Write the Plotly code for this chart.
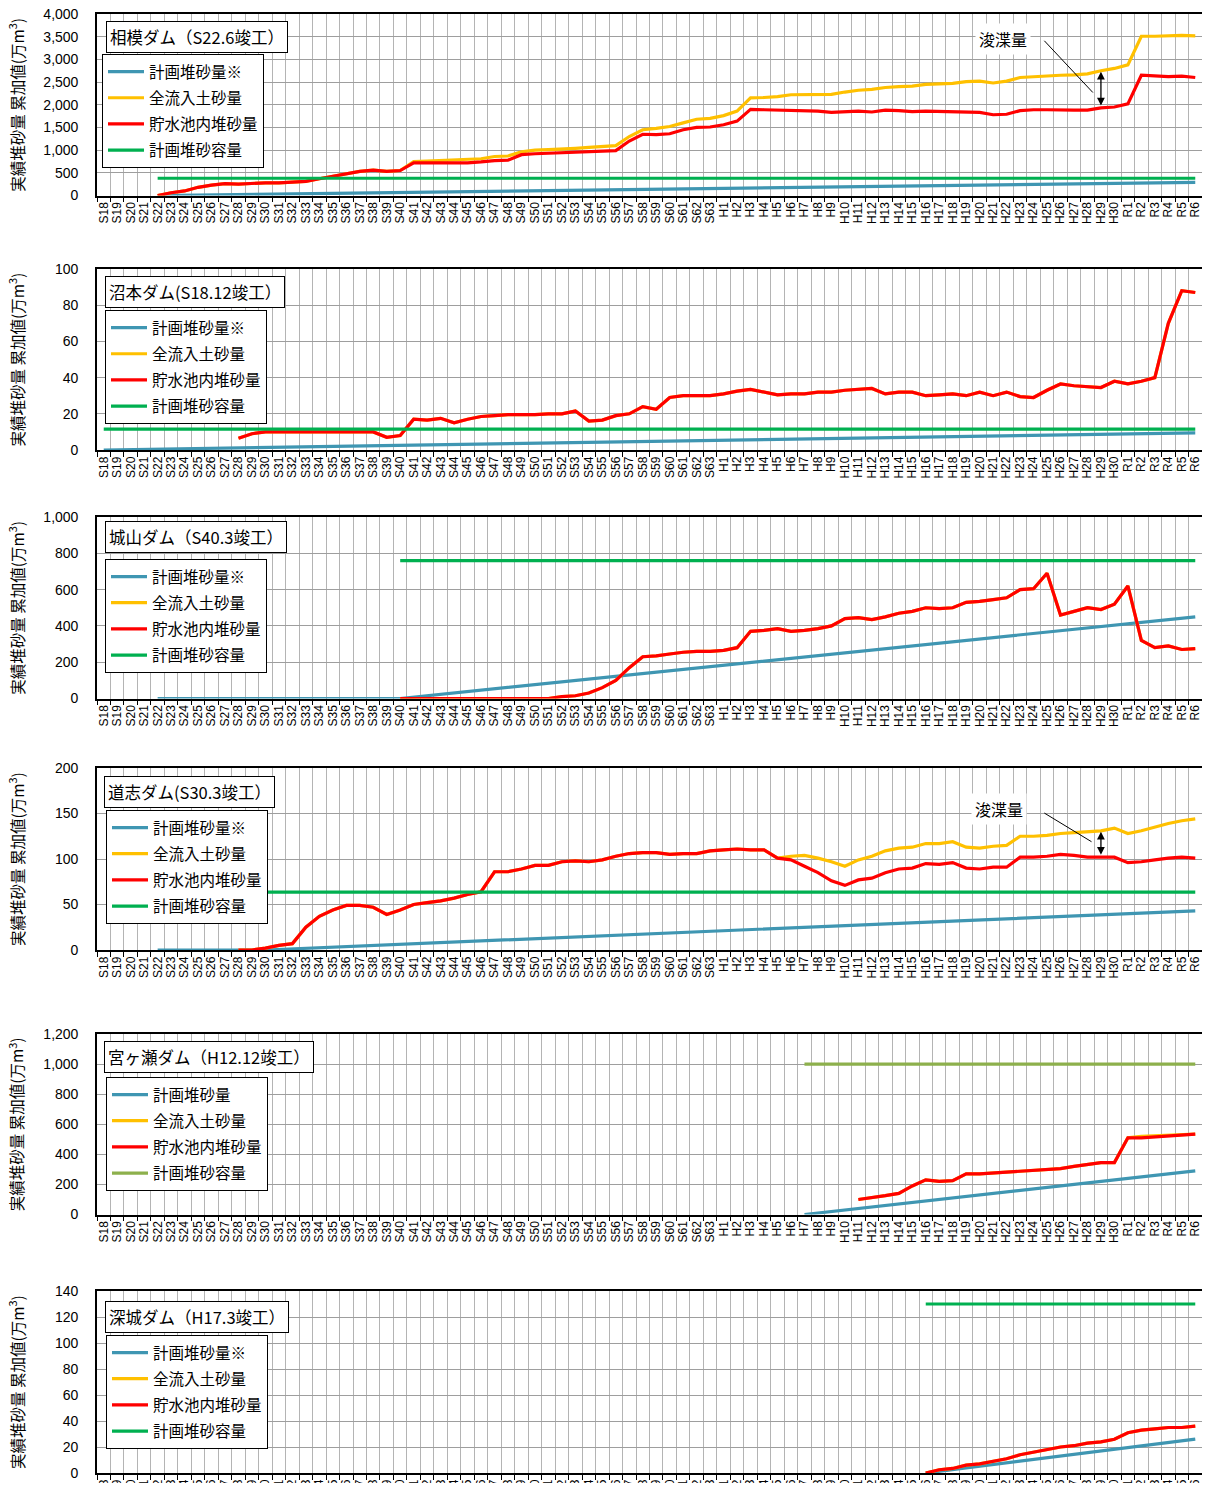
import plotly.graph_objects as go

# ---------------- categories ----------------
years = ([f"S{i}" for i in range(18, 64)] + [f"H{i}" for i in range(1, 31)]
         + [f"R{i}" for i in range(1, 7)])

# ---------------- data (万m3) ----------------
# 相模ダム
sagami_red_start = "S22"
sagami_red = [0, 60, 100, 180, 230, 260, 250, 270, 280, 280,
              290, 310, 370, 420, 480, 530, 560, 530, 550, 720,
              720, 720, 720, 720, 740, 770, 780, 900, 920, 930,
              940, 950, 970, 980, 990, 1200, 1350, 1340, 1360, 1450,
              1500, 1510,
              1560, 1640, 1900, 1890, 1880, 1880, 1870, 1860, 1830, 1850,
              1860, 1840, 1880, 1870, 1850, 1860, 1850, 1840, 1840, 1830,
              1780, 1790, 1870, 1890, 1890, 1880, 1880, 1880, 1930, 1950,
              2020, 2650, 2640, 2620, 2630, 2600]
sagami_yel_start = "S22"
sagami_yel = [0, 60, 100, 180, 230, 260, 250, 270, 280, 280,
              290, 310, 370, 420, 480, 530, 560, 530, 550, 750,
              760, 770, 780, 790, 810, 860, 870, 960, 1000, 1010,
              1020, 1040, 1060, 1080, 1100, 1300, 1450, 1480, 1520, 1600,
              1680, 1700,
              1760, 1860, 2150, 2160, 2180, 2220, 2220, 2230, 2230, 2280,
              2320, 2340, 2380, 2400, 2410, 2450, 2460, 2470, 2510, 2520,
              2480, 2520, 2600, 2620, 2640, 2650, 2660, 2680, 2750, 2800,
              2880, 3510, 3510, 3520, 3530, 3520]
sagami_plan_x = ["S22", "R6"]
sagami_plan_y = [0, 290]
sagami_cap_x = ["S22", "R6"]
sagami_cap_y = [380, 380]

# 沼本ダム
numa_red_start = "S28"
numa_red = [6.5, 9, 10, 10, 10, 10, 10, 10, 10, 10,
            10, 7, 8, 17, 16.5, 17.5, 15, 17, 18.5, 19,
            19.5, 19.5, 19.5, 20, 20, 21.5, 16, 16.5, 19, 20,
            24, 22.5, 29, 30, 30, 30,
            31, 32.5, 33.5, 32, 30.5, 31, 31, 32, 32, 33,
            33.5, 34, 31, 32, 32, 30, 30.5, 31, 30, 32,
            30, 32, 29.5, 29, 33, 36.5, 35.5, 35, 34.5, 38,
            36.5, 38, 40, 70, 88, 87, 85.5, 88]
numa_plan_x = ["S18", "R6"]
numa_plan_y = [0, 9.5]
numa_cap_x = ["S18", "R6"]
numa_cap_y = [11.5, 11.5]

# 城山ダム
shiro_red_start = "S40"
shiro_red = [0, 0, 0, 0, 0, 0, 0, 0, 0, 0,
             0, 0, 10, 15, 30, 60, 100, 170, 230, 235,
             245, 255, 260, 260,
             265, 280, 370, 375, 385, 370, 375, 385, 400, 440,
             445, 435, 450, 470, 480, 500, 495, 500, 530, 535,
             545, 555, 600, 605, 690, 460, 480, 500, 490, 520,
             620, 320, 280, 290, 270, 275]
shiro_plan_x = ["S22", "S40", "R6"]
shiro_plan_y = [0, 0, 450]
shiro_cap_x = ["S40", "R6"]
shiro_cap_y = [760, 760]

# 道志ダム
doshi_red_start = "S28"
doshi_red = [0, 0, 2, 5, 7, 25, 37, 44, 49, 49,
             47, 39, 44, 50, 52, 54, 57, 61, 64, 86,
             86, 89, 93, 93, 97, 98, 97, 99, 103, 106,
             107, 107, 105, 106, 106, 109,
             110, 111, 110, 110, 101, 99, 92, 85, 76, 71,
             77, 79, 85, 89, 90, 95, 94, 96, 90, 89,
             91, 91, 102, 102, 103, 105, 104, 102, 102, 102,
             96, 97, 99, 101, 102, 101]
doshi_yel_start = "S28"
doshi_yel = [0, 0, 2, 5, 7, 25, 37, 44, 49, 49,
             47, 39, 44, 50, 52, 54, 57, 61, 64, 86,
             86, 89, 93, 93, 97, 98, 97, 99, 103, 106,
             107, 107, 105, 106, 106, 109,
             110, 111, 110, 110, 101, 103, 104, 101, 97, 92,
             99, 103, 109, 112, 113, 117, 117, 119, 113, 112,
             114, 115, 125, 125, 126, 128, 129, 130, 131, 134,
             128, 131, 135, 139, 142, 144]
doshi_plan_x = ["S22", "S30", "R6"]
doshi_plan_y = [0, 0, 43]
doshi_cap_x = ["S28", "R6"]
doshi_cap_y = [63.5, 63.5]

# 宮ヶ瀬ダム
miya_red_start = "H11"
miya_red = [100, 110, 125, 140, 190, 230, 220, 225, 270, 270,
            275, 280, 285, 295, 300, 305, 320, 335, 345, 345,
            510, 510, 515, 520, 530, 535]
miya_yel_start = "H11"
miya_yel = [100, 110, 125, 140, 190, 230, 220, 225, 270, 270,
            275, 280, 285, 295, 300, 305, 320, 335, 345, 345,
            510, 520, 525, 525, 530, 535]
miya_plan_x = ["H7", "R6"]
miya_plan_y = [0, 290]
miya_cap_x = ["H7", "R6"]
miya_cap_y = [1000, 1000]

# 深城ダム
fuka_red_start = "H16"
fuka_red = [0, 2.5, 3.5, 6, 7, 9, 11, 14, 16, 18,
            20, 21, 23, 24, 26, 31, 33, 34, 35, 35, 36]
fuka_plan_x = ["H16", "R6"]
fuka_plan_y = [0, 26]
fuka_cap_x = ["H16", "R6"]
fuka_cap_y = [130, 130]

# ---------------- styling ----------------
C_BLUE = "#3F96B2"
C_YEL = "#FFC000"
C_RED = "#FF0000"
C_GREEN = "#00B050"
C_OLIVE = "#8DB04C"
JP = "Noto Sans CJK JP"
LAT = "Liberation Sans"
OFF = 8                      # page body margin
W, H = 1210 - 2 * OFF, 1491 - 2 * OFF
PL, PR = 97 - OFF, 1202 - OFF


def seg(start, vals):
    i = years.index(start)
    return years[i:i + len(vals)], vals


def px(xpix):            # reference pixel -> paper x
    return (xpix - OFF - PL) / (PR - PL)


def py(ypix):            # reference pixel -> paper y
    return 1 - (ypix - OFF) / H


panels = [
    dict(title="相模ダム（S22.6竣工）", top=14, bot=195.5, ymax=4000, dtick=500,
         plan=(sagami_plan_x, sagami_plan_y), yel=seg(sagami_yel_start, sagami_yel),
         red=seg(sagami_red_start, sagami_red), cap=(sagami_cap_x, sagami_cap_y),
         capcol=C_GREEN, plan_name="計画堆砂量※",
         tbox=(106, 21), leg=(102, 54)),
    dict(title="沼本ダム(S18.12竣工）", top=269, bot=450, ymax=100, dtick=20,
         plan=(numa_plan_x, numa_plan_y), yel=seg(numa_red_start, numa_red),
         red=seg(numa_red_start, numa_red), cap=(numa_cap_x, numa_cap_y),
         capcol=C_GREEN, plan_name="計画堆砂量※",
         tbox=(105, 276), leg=(105, 310)),
    dict(title="城山ダム（S40.3竣工）", top=517, bot=698.5, ymax=1000, dtick=200,
         plan=(shiro_plan_x, shiro_plan_y), yel=seg(shiro_red_start, shiro_red),
         red=seg(shiro_red_start, shiro_red), cap=(shiro_cap_x, shiro_cap_y),
         capcol=C_GREEN, plan_name="計画堆砂量※",
         tbox=(105, 521), leg=(105, 559)),
    dict(title="道志ダム(S30.3竣工）", top=768, bot=950, ymax=200, dtick=50,
         plan=(doshi_plan_x, doshi_plan_y), yel=seg(doshi_yel_start, doshi_yel),
         red=seg(doshi_red_start, doshi_red), cap=(doshi_cap_x, doshi_cap_y),
         capcol=C_GREEN, plan_name="計画堆砂量※",
         tbox=(104, 776), leg=(106, 810)),
    dict(title="宮ヶ瀬ダム（H12.12竣工）", top=1034, bot=1214.5, ymax=1200, dtick=200,
         plan=(miya_plan_x, miya_plan_y), yel=seg(miya_yel_start, miya_yel),
         red=seg(miya_red_start, miya_red), cap=(miya_cap_x, miya_cap_y),
         capcol=C_OLIVE, plan_name="計画堆砂量",
         tbox=(104, 1041), leg=(106, 1077)),
    dict(title="深城ダム（H17.3竣工）", top=1291, bot=1473, ymax=140, dtick=20,
         plan=(fuka_plan_x, fuka_plan_y), yel=seg(fuka_red_start, fuka_red),
         red=seg(fuka_red_start, fuka_red), cap=(fuka_cap_x, fuka_cap_y),
         capcol=C_GREEN, plan_name="計画堆砂量※",
         tbox=(105, 1301), leg=(106, 1335)),
]

fig = go.Figure()
annotations = []
shapes = []
layout = {}

for k, p in enumerate(panels):
    n = k + 1
    xa = "x" if n == 1 else f"x{n}"
    ya = "y" if n == 1 else f"y{n}"
    lg = "legend" if n == 1 else f"legend{n}"
    # helper trace so every category exists on the axis
    fig.add_trace(go.Scatter(x=years, y=[None] * len(years), xaxis=xa, yaxis=ya,
                             showlegend=False, hoverinfo="skip", mode="lines"))
    series = [
        (p["plan_name"], p["plan"], C_BLUE),
        ("全流入土砂量", p["yel"], C_YEL),
        ("貯水池内堆砂量", p["red"], C_RED),
        ("計画堆砂容量", p["cap"], p["capcol"]),
    ]
    for j, (name, (xs, ys), col) in enumerate(series):
        fig.add_trace(go.Scatter(x=xs, y=ys, name=name, mode="lines",
                                 line=dict(color=col, width=3.2),
                                 xaxis=xa, yaxis=ya, legend=lg,
                                 legendgroup=f"g{n}_{j}"))
    layout["xaxis" if n == 1 else f"xaxis{n}"] = dict(
        type="category", categoryorder="array", categoryarray=years,
        range=[-0.5, len(years) - 0.5], domain=[0, 1], anchor=ya,
        tickmode="linear", tick0=0, dtick=1, automargin=False,
        tickson="boundaries", ticks="outside", ticklen=5, tickcolor="black",
        tickwidth=1, showgrid=True, gridcolor="#B4B4B4", gridwidth=1.4,
        tickangle=-90, tickfont=dict(size=12, family=LAT, color="black"),
        ticklabeloverflow="allow",
        showline=True, mirror=True, linecolor="black", linewidth=1.6,
        fixedrange=True)
    layout["yaxis" if n == 1 else f"yaxis{n}"] = dict(
        range=[0, p["ymax"]], dtick=p["dtick"], tick0=0, tickformat=",",
        domain=[py(p["bot"]), py(p["top"])], anchor=xa, automargin=False,
        showgrid=True, gridcolor="#9E9E9E", gridwidth=1, zeroline=False,
        showline=True, mirror=True, linecolor="black", linewidth=1.6,
        ticks="", ticklabelstandoff=14, ticklabeloverflow="allow",
        tickfont=dict(size=14, family=LAT, color="black"), fixedrange=True)
    layout[lg] = dict(
        x=px(p["leg"][0]), y=py(p["leg"][1]), xanchor="left", yanchor="top",
        bgcolor="white", bordercolor="black", borderwidth=1,
        font=dict(size=15.5, family=JP, color="black"),
        traceorder="grouped", tracegroupgap=3, itemwidth=36)
    # title box
    annotations.append(dict(
        text=p["title"], xref="paper", yref="paper",
        x=px(p["tbox"][0]), y=py(p["tbox"][1]), xanchor="left", yanchor="top",
        showarrow=False, font=dict(size=16.5, family=JP, color="black"),
        bgcolor="white", bordercolor="black", borderwidth=1, borderpad=3))
    # y-axis title
    annotations.append(dict(
        text="実績堆砂量 累加値(万m<sup>3</sup>)", xref="paper", yref="paper",
        x=px(16), y=py((p["top"] + p["bot"]) / 2), xanchor="center", yanchor="middle",
        textangle=-90, showarrow=False, font=dict(size=15.5, family=JP, color="black")))


# dredging annotations (panels 1 and 4)
def dredge(n, yel_seg, red_seg, at, text_pos, line_from, line_to):
    xa = "x" if n == 1 else f"x{n}"
    ya = "y" if n == 1 else f"y{n}"
    xs_y, vs_y = yel_seg
    xs_r, vs_r = red_seg
    yv = vs_y[xs_y.index(at)]
    rv = vs_r[xs_r.index(at)]
    xi = years.index(at)
    annotations.append(dict(
        x=xi, y=yv, ax=xi, ay=rv, xref=xa, yref=ya, axref=xa, ayref=ya,
        text="", showarrow=True, arrowside="end+start", arrowhead=2,
        arrowsize=1.2, arrowwidth=1.3, arrowcolor="black", standoff=1,
        startstandoff=1))
    shapes.append(dict(type="line", xref=xa, yref=ya,
                       x0=line_from[0], y0=line_from[1], x1=line_to[0], y1=line_to[1],
                       line=dict(color="black", width=1)))
    annotations.append(dict(
        text="浚渫量", x=text_pos[0], y=text_pos[1], xref=xa, yref=ya,
        showarrow=False, font=dict(size=16, family=JP, color="black"),
        bgcolor="white", borderpad=3))


dredge(1, panels[0]["yel"], panels[0]["red"], "H29",
       (66.7, 3460), (69.8, 3410), (73.4, 2270))
dredge(4, panels[3]["yel"], panels[3]["red"], "H29",
       (66.4, 155), (69.8, 150.5), (73.3, 119))

fig.update_layout(
    width=W, height=H,
    margin=dict(l=PL, r=W - PR, t=0, b=0, autoexpand=False),
    paper_bgcolor="white", plot_bgcolor="white",
    annotations=annotations, shapes=shapes,
    font=dict(family=JP, color="black"),
    **layout)

# let tick labels at the very top/bottom spill into the page margin, as in the original
fig.write_html(
    "out.html",
    post_script=(
        "document.querySelectorAll('.main-svg, .svg-container, .plot-container, "
        ".js-plotly-plot, .plotly-graph-div').forEach(function(s){"
        "s.style.overflow='visible';});"
    )
)
